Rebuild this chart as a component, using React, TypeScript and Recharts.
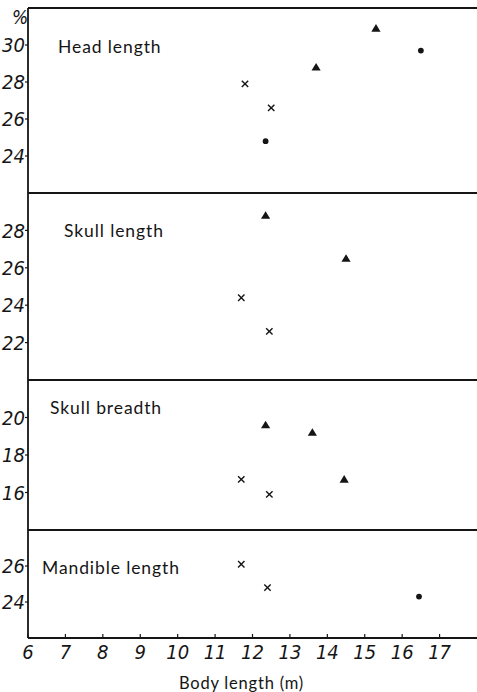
import React from 'react';
import { ScatterChart, Scatter, XAxis, YAxis, ReferenceLine } from 'recharts';

// body length (m) on x, measurement as % of body length on y
const X_TICKS = [6, 7, 8, 9, 10, 11, 12, 13, 14, 15, 16, 17];

const headCross = [{ x: 11.8, y: 27.9 }, { x: 12.5, y: 26.6 }];
const headCircle = [{ x: 12.35, y: 24.8 }, { x: 16.5, y: 29.7 }];
const headTriangle = [{ x: 13.7, y: 28.8 }, { x: 15.3, y: 30.9 }];

const skullLengthCross = [{ x: 11.7, y: 24.4 }, { x: 12.45, y: 22.6 }];
const skullLengthTriangle = [{ x: 12.35, y: 28.8 }, { x: 14.5, y: 26.5 }];

const skullBreadthCross = [{ x: 11.7, y: 16.7 }, { x: 12.45, y: 15.9 }];
const skullBreadthTriangle = [{ x: 12.35, y: 19.6 }, { x: 13.6, y: 19.2 }, { x: 14.45, y: 16.7 }];

const mandibleCross = [{ x: 11.7, y: 26.1 }, { x: 12.4, y: 24.8 }];
const mandibleCircle = [{ x: 16.45, y: 24.3 }];

const INK = '#151515';
const W = 477;
const AXIS_W = 28;
const PAD = 4; // room so the panel's top rule isn't clipped

const tickFont = {
  fill: INK,
  fontSize: 20,
  fontStyle: 'italic',
  fontFamily: '"Liberation Sans Narrow", "DejaVu Sans Condensed", sans-serif',
};
const titleFont = {
  fontFamily: 'Lato, "DejaVu Sans", sans-serif',
  fontSize: 17.5,
  color: INK,
  letterSpacing: 0.9,
};

const Cross = (p: any) => {
  const { cx, cy } = p;
  const r = 3.2;
  return (
    <path
      d={`M${cx - r},${cy - r}L${cx + r},${cy + r}M${cx - r},${cy + r}L${cx + r},${cy - r}`}
      stroke={INK}
      strokeWidth={1.4}
      fill="none"
    />
  );
};
const Circle = (p: any) => <circle cx={p.cx} cy={p.cy} r={2.9} fill={INK} />;
const Triangle = (p: any) => {
  const { cx, cy } = p;
  return <path d={`M${cx},${cy - 4.3}L${cx + 4.6},${cy + 3.3}L${cx - 4.6},${cy + 3.3}Z`} fill={INK} />;
};

interface Panel {
  title: string;
  top: number;
  plotHeight: number;
  domain: [number, number];
  ticks: number[];
  cross?: { x: number; y: number }[];
  circle?: { x: number; y: number }[];
  triangle?: { x: number; y: number }[];
  titleLeft: number;
  titleTop: number;
}

const panels: Panel[] = [
  { title: 'Head length', top: 8, plotHeight: 185, domain: [22, 32], ticks: [24, 26, 28, 30],
    cross: headCross, circle: headCircle, triangle: headTriangle, titleLeft: 58, titleTop: 36 },
  { title: 'Skull length', top: 193, plotHeight: 187, domain: [20, 30], ticks: [22, 24, 26, 28],
    cross: skullLengthCross, triangle: skullLengthTriangle, titleLeft: 64, titleTop: 220 },
  { title: 'Skull breadth', top: 380, plotHeight: 150, domain: [14, 22], ticks: [16, 18, 20],
    cross: skullBreadthCross, triangle: skullBreadthTriangle, titleLeft: 50, titleTop: 397 },
  { title: 'Mandible length', top: 530, plotHeight: 108, domain: [22, 28], ticks: [24, 26],
    cross: mandibleCross, circle: mandibleCircle, titleLeft: 42, titleTop: 557 },
];

function PanelChart({ panel, last }: { panel: Panel; last: boolean }) {
  const xAxisH = last ? 54 : 0;
  return (
    <div style={{ position: 'absolute', left: 0, top: panel.top - PAD }}>
      <ScatterChart
        width={W}
        height={panel.plotHeight + PAD + xAxisH}
        margin={{ top: PAD, right: 0, bottom: 0, left: 0 }}
      >
        <XAxis
          type="number"
          dataKey="x"
          domain={[6, 18]}
          ticks={X_TICKS}
          hide={!last}
          height={xAxisH}
          axisLine={{ stroke: INK, strokeWidth: 1.8 }}
          tickLine={{ stroke: INK, strokeWidth: 1.2 }}
          tickSize={-4}
          tickMargin={11}
          tick={tickFont}
          interval={0}
          label={{
            value: 'Body length (m)',
            position: 'insideBottom',
            offset: 3,
            dx: -11,
            style: { fill: INK, fontSize: 16.5, fontFamily: 'Lato, "DejaVu Sans", sans-serif', letterSpacing: 0.8 },
          }}
        />
        <YAxis
          type="number"
          dataKey="y"
          domain={panel.domain}
          ticks={panel.ticks}
          width={AXIS_W}
          axisLine={{ stroke: INK, strokeWidth: 1.8 }}
          tickLine={{ stroke: INK, strokeWidth: 1.2 }}
          tickSize={3}
          tickMargin={0}
          tick={tickFont}
          allowDataOverflow
        />
        <ReferenceLine y={panel.domain[1]} stroke={INK} strokeWidth={1.8} ifOverflow="visible" />
        {panel.cross && <Scatter data={panel.cross} shape={Cross} isAnimationActive={false} />}
        {panel.circle && <Scatter data={panel.circle} shape={Circle} isAnimationActive={false} />}
        {panel.triangle && <Scatter data={panel.triangle} shape={Triangle} isAnimationActive={false} />}
      </ScatterChart>
      <div
        style={{
          ...titleFont,
          position: 'absolute',
          left: panel.titleLeft,
          top: panel.titleTop - panel.top + PAD,
          whiteSpace: 'nowrap',
        }}
      >
        {panel.title}
      </div>
    </div>
  );
}

export default function App() {
  return (
    <div style={{ position: 'absolute', left: 0, top: 0, width: W, height: 692, background: '#fff' }}>
      <div
        style={{
          position: 'absolute',
          left: 12,
          top: 6,
          fontSize: 19,
          fontStyle: 'italic',
          fontFamily: tickFont.fontFamily,
          color: INK,
          zIndex: 2,
        }}
      >
        %
      </div>
      {panels.map((p, i) => (
        <PanelChart key={p.title} panel={p} last={i === panels.length - 1} />
      ))}
    </div>
  );
}
